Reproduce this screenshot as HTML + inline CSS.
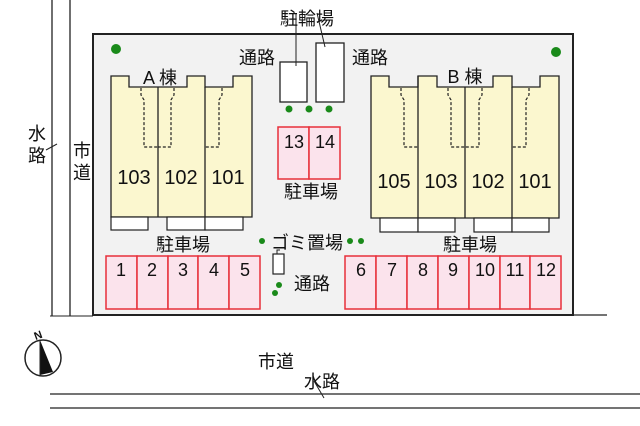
<!DOCTYPE html>
<html><head><meta charset="utf-8"><style>
html,body{margin:0;padding:0;background:#fff;}
svg{display:block;}
text{font-family:"Liberation Sans","Noto Sans CJK JP",sans-serif;fill:#111;}
</style></head><body>
<svg width="640" height="426" viewBox="0 0 640 426" xmlns="http://www.w3.org/2000/svg">
<line x1="52" y1="0" x2="52" y2="316" stroke="#222" stroke-width="1.3"/>
<line x1="70" y1="0" x2="70" y2="316" stroke="#222" stroke-width="1.3"/>
<line x1="50" y1="316" x2="93" y2="316" stroke="#222" stroke-width="1"/>
<rect x="93" y="34" width="480" height="281" fill="#f2f2f2" stroke="#222" stroke-width="2"/>
<line x1="573" y1="315" x2="607" y2="315" stroke="#222" stroke-width="1.2"/>
<line x1="50" y1="394" x2="640" y2="394" stroke="#222" stroke-width="1.3"/>
<line x1="50" y1="408" x2="640" y2="408" stroke="#222" stroke-width="1.3"/>
<path d="M111,76 H129 V87 H187 V76 H205 V87 H233 V76 H252 V217 H111 Z" fill="#fbf7cf" stroke="#222" stroke-width="1.3"/>
<line x1="158" y1="87" x2="158" y2="217" stroke="#222" stroke-width="1.3"/>
<line x1="205" y1="87" x2="205" y2="217" stroke="#222" stroke-width="1.3"/>
<g fill="none" stroke="#222" stroke-width="1.2" stroke-dasharray="3,2">
<path d="M141,88 V95 L144,100 V147 H158"/>
<path d="M174,88 V95 L171,100 V147 H158"/>
<path d="M222,88 V95 L219,100 V147 H205"/>
</g>
<rect x="111" y="217" width="37" height="13" fill="#fff" stroke="#222" stroke-width="1.2"/>
<rect x="167" y="217" width="38" height="13" fill="#fff" stroke="#222" stroke-width="1.2"/>
<rect x="205" y="217" width="38" height="13" fill="#fff" stroke="#222" stroke-width="1.2"/>
<text x="160" y="84" font-size="18" text-anchor="middle">A 棟</text>
<text x="134" y="184" font-size="20" text-anchor="middle">103</text>
<text x="181" y="184" font-size="20" text-anchor="middle">102</text>
<text x="228" y="184" font-size="20" text-anchor="middle">101</text>
<path d="M371,76 H389 V87 H418 V76 H437 V87 H493 V76 H512 V87 H540 V76 H559 V218 H371 Z" fill="#fbf7cf" stroke="#222" stroke-width="1.3"/>
<line x1="418" y1="76" x2="418" y2="218" stroke="#222" stroke-width="1.3"/>
<line x1="465" y1="87" x2="465" y2="218" stroke="#222" stroke-width="1.3"/>
<line x1="512" y1="87" x2="512" y2="218" stroke="#222" stroke-width="1.3"/>
<g fill="none" stroke="#222" stroke-width="1.2" stroke-dasharray="3,2">
<path d="M401,88 V95 L404,100 V147 H418"/>
<path d="M448,88 V95 L451,100 V147 H465"/>
<path d="M482,88 V95 L479,100 V147 H465"/>
<path d="M529,88 V95 L526,100 V147 H512"/>
</g>
<rect x="380" y="218" width="38" height="14" fill="#fff" stroke="#222" stroke-width="1.2"/>
<rect x="418" y="218" width="37" height="14" fill="#fff" stroke="#222" stroke-width="1.2"/>
<rect x="474" y="218" width="38" height="14" fill="#fff" stroke="#222" stroke-width="1.2"/>
<rect x="512" y="218" width="37" height="14" fill="#fff" stroke="#222" stroke-width="1.2"/>
<text x="465" y="83" font-size="18" text-anchor="middle">B 棟</text>
<text x="394" y="188" font-size="20" text-anchor="middle">105</text>
<text x="441" y="188" font-size="20" text-anchor="middle">103</text>
<text x="488" y="188" font-size="20" text-anchor="middle">102</text>
<text x="535" y="188" font-size="20" text-anchor="middle">101</text>
<rect x="280" y="62" width="27" height="40" fill="#fff" stroke="#222" stroke-width="1.3"/>
<rect x="316" y="43" width="28" height="59" fill="#fff" stroke="#222" stroke-width="1.3"/>
<line x1="296" y1="13" x2="296" y2="66" stroke="#222" stroke-width="1"/>
<line x1="317" y1="13" x2="325" y2="47" stroke="#222" stroke-width="1"/>
<text x="307" y="25" font-size="18" text-anchor="middle">駐輪場</text>
<text x="257" y="64" font-size="18" text-anchor="middle">通路</text>
<text x="370" y="64" font-size="18" text-anchor="middle">通路</text>
<g fill="#1a8a1a">
<circle cx="289" cy="109" r="3.5"/><circle cx="309" cy="109" r="3.5"/><circle cx="329" cy="109" r="3.5"/>
<circle cx="116" cy="49" r="5"/><circle cx="556" cy="52" r="5"/>
<circle cx="262" cy="241" r="3"/><circle cx="350" cy="241" r="3"/><circle cx="361" cy="241" r="3"/>
<circle cx="279" cy="285" r="3"/><circle cx="275" cy="293" r="3"/>
</g>
<rect x="278" y="127" width="31" height="52" fill="#fbe3ec" stroke="#e8303a" stroke-width="1.5"/>
<rect x="309" y="127" width="31" height="52" fill="#fbe3ec" stroke="#e8303a" stroke-width="1.5"/>
<text x="294" y="148" font-size="18" text-anchor="middle">13</text>
<text x="325" y="148" font-size="18" text-anchor="middle">14</text>
<text x="311" y="198" font-size="18" text-anchor="middle">駐車場</text>
<g fill="#fbe3ec" stroke="#e8303a" stroke-width="1.5">
<rect x="106" y="256" width="31" height="53"/><rect x="137" y="256" width="31" height="53"/><rect x="168" y="256" width="30" height="53"/><rect x="198" y="256" width="31" height="53"/><rect x="229" y="256" width="31" height="53"/>
<rect x="345" y="256" width="31" height="53"/><rect x="376" y="256" width="31" height="53"/><rect x="407" y="256" width="31" height="53"/><rect x="438" y="256" width="31" height="53"/><rect x="469" y="256" width="31" height="53"/><rect x="500" y="256" width="30" height="53"/><rect x="530" y="256" width="31" height="53"/>
</g>
<g font-size="18" text-anchor="middle">
<text x="121" y="276">1</text><text x="152" y="276">2</text><text x="183" y="276">3</text><text x="214" y="276">4</text><text x="245" y="276">5</text>
<text x="361" y="276">6</text><text x="392" y="276">7</text><text x="423" y="276">8</text><text x="453" y="276">9</text><text x="485" y="276">10</text><text x="515" y="276">11</text><text x="546" y="276">12</text>
</g>
<text x="183" y="251" font-size="18" text-anchor="middle">駐車場</text>
<text x="470" y="251" font-size="18" text-anchor="middle">駐車場</text>
<rect x="273" y="254" width="11" height="20" fill="#fff" stroke="#222" stroke-width="1.2"/>
<path d="M277,254 V250 H280" fill="none" stroke="#222" stroke-width="1"/>
<text x="307" y="249" font-size="18" text-anchor="middle">ゴミ置場</text>
<text x="312" y="290" font-size="18" text-anchor="middle">通路</text>
<text x="37" y="140" font-size="18" text-anchor="middle">水</text>
<text x="37" y="162" font-size="18" text-anchor="middle">路</text>
<line x1="46" y1="150" x2="57" y2="144" stroke="#222" stroke-width="1"/>
<text x="82" y="157" font-size="18" text-anchor="middle">市</text>
<text x="82" y="179" font-size="18" text-anchor="middle">道</text>
<text x="276" y="368" font-size="18" text-anchor="middle">市道</text>
<text x="322" y="388" font-size="18" text-anchor="middle">水路</text>
<line x1="314" y1="381" x2="324" y2="398" stroke="#222" stroke-width="1"/>
<circle cx="43" cy="358" r="18" fill="#fff" stroke="#222" stroke-width="1.5"/>
<path d="M40,340 L53,372 L40,375 Z" fill="#111"/>
<line x1="40" y1="340" x2="40" y2="376" stroke="#222" stroke-width="1"/>
<text x="38" y="339" font-size="11" font-weight="bold" text-anchor="middle" transform="rotate(-20 38 335)">N</text>
</svg>
</body></html>
